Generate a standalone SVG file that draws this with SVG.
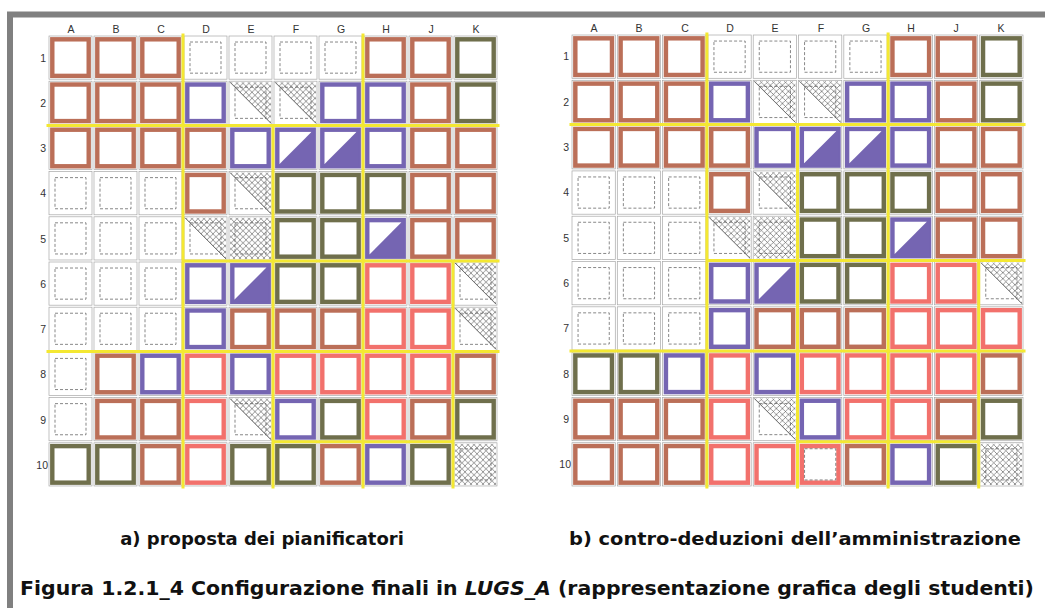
<svg xmlns="http://www.w3.org/2000/svg" xmlns:xlink="http://www.w3.org/1999/xlink" width="1045" height="608" viewBox="0 0 1045 608">
<style>
.cell{fill:none;stroke:#a8a8a8;stroke-width:0.7}
.br{fill:none;stroke:#bb6f58;stroke-width:4.4}
.ol{fill:none;stroke:#6f6f4c;stroke-width:4.4}
.pu{fill:none;stroke:#7565b2;stroke-width:4.4}
.sa{fill:none;stroke:#f2716c;stroke-width:4.4}
.dash{fill:none;stroke:#555;stroke-width:0.7;stroke-dasharray:3 2}
.yl{stroke:#f4e832;stroke-width:3;fill:none;stroke-linecap:square}
.lbl{font-family:"Liberation Sans",Arial,sans-serif;font-size:10.5px;fill:#333}
.cap{font-family:"DejaVu Sans","Liberation Sans",sans-serif;font-weight:bold;fill:#111}
</style>
<defs>
<pattern id="xh" width="6" height="6" patternUnits="userSpaceOnUse">
<path d="M0,0 L6,6 M6,0 L0,6" stroke="#555" stroke-width="0.6"/>
</pattern>
<symbol id="c" overflow="visible"><rect class="cell" x="1" y="1" width="43" height="43"/></symbol>
<symbol id="B" overflow="visible"><rect class="br" x="4.3" y="4.3" width="36.4" height="36.4"/></symbol>
<symbol id="O" overflow="visible"><rect class="ol" x="4.3" y="4.3" width="36.4" height="36.4"/></symbol>
<symbol id="P" overflow="visible"><rect class="pu" x="4.3" y="4.3" width="36.4" height="36.4"/></symbol>
<symbol id="S" overflow="visible"><rect class="sa" x="4.3" y="4.3" width="36.4" height="36.4"/></symbol>
<symbol id="H" overflow="visible"><rect class="pu" x="4.3" y="4.3" width="36.4" height="36.4"/><path d="M4.3,40.7 L40.7,4.3 L40.7,40.7 Z" fill="#7565b2"/></symbol>
<symbol id="E" overflow="visible"><rect class="dash" x="7" y="7" width="31" height="31"/></symbol>
<symbol id="T" overflow="visible"><path d="M2,2 H43 V43 Z" fill="url(#xh)"/><path d="M2,2 L43,43" stroke="#555" stroke-width="0.8"/><rect class="dash" x="7" y="7" width="31" height="31"/></symbol>
<symbol id="X" overflow="visible"><rect x="2" y="2" width="41" height="41" fill="url(#xh)"/><rect class="dash" x="7" y="7" width="31" height="31"/></symbol>
</defs>
<path d="M10,608 V14.5 H1045" fill="none" stroke="#808080" stroke-width="6"/>

<g id="grid-a" transform="translate(48,35) scale(1,1.0044)">
<g id="grid-a-cells">
<use href="#c" x="0" y="0"/><use href="#c" x="45" y="0"/><use href="#c" x="90" y="0"/><use href="#c" x="135" y="0"/><use href="#c" x="180" y="0"/><use href="#c" x="225" y="0"/><use href="#c" x="270" y="0"/><use href="#c" x="315" y="0"/><use href="#c" x="360" y="0"/><use href="#c" x="405" y="0"/>
<use href="#c" x="0" y="45"/><use href="#c" x="45" y="45"/><use href="#c" x="90" y="45"/><use href="#c" x="135" y="45"/><use href="#c" x="180" y="45"/><use href="#c" x="225" y="45"/><use href="#c" x="270" y="45"/><use href="#c" x="315" y="45"/><use href="#c" x="360" y="45"/><use href="#c" x="405" y="45"/>
<use href="#c" x="0" y="90"/><use href="#c" x="45" y="90"/><use href="#c" x="90" y="90"/><use href="#c" x="135" y="90"/><use href="#c" x="180" y="90"/><use href="#c" x="225" y="90"/><use href="#c" x="270" y="90"/><use href="#c" x="315" y="90"/><use href="#c" x="360" y="90"/><use href="#c" x="405" y="90"/>
<use href="#c" x="0" y="135"/><use href="#c" x="45" y="135"/><use href="#c" x="90" y="135"/><use href="#c" x="135" y="135"/><use href="#c" x="180" y="135"/><use href="#c" x="225" y="135"/><use href="#c" x="270" y="135"/><use href="#c" x="315" y="135"/><use href="#c" x="360" y="135"/><use href="#c" x="405" y="135"/>
<use href="#c" x="0" y="180"/><use href="#c" x="45" y="180"/><use href="#c" x="90" y="180"/><use href="#c" x="135" y="180"/><use href="#c" x="180" y="180"/><use href="#c" x="225" y="180"/><use href="#c" x="270" y="180"/><use href="#c" x="315" y="180"/><use href="#c" x="360" y="180"/><use href="#c" x="405" y="180"/>
<use href="#c" x="0" y="225"/><use href="#c" x="45" y="225"/><use href="#c" x="90" y="225"/><use href="#c" x="135" y="225"/><use href="#c" x="180" y="225"/><use href="#c" x="225" y="225"/><use href="#c" x="270" y="225"/><use href="#c" x="315" y="225"/><use href="#c" x="360" y="225"/><use href="#c" x="405" y="225"/>
<use href="#c" x="0" y="270"/><use href="#c" x="45" y="270"/><use href="#c" x="90" y="270"/><use href="#c" x="135" y="270"/><use href="#c" x="180" y="270"/><use href="#c" x="225" y="270"/><use href="#c" x="270" y="270"/><use href="#c" x="315" y="270"/><use href="#c" x="360" y="270"/><use href="#c" x="405" y="270"/>
<use href="#c" x="0" y="315"/><use href="#c" x="45" y="315"/><use href="#c" x="90" y="315"/><use href="#c" x="135" y="315"/><use href="#c" x="180" y="315"/><use href="#c" x="225" y="315"/><use href="#c" x="270" y="315"/><use href="#c" x="315" y="315"/><use href="#c" x="360" y="315"/><use href="#c" x="405" y="315"/>
<use href="#c" x="0" y="360"/><use href="#c" x="45" y="360"/><use href="#c" x="90" y="360"/><use href="#c" x="135" y="360"/><use href="#c" x="180" y="360"/><use href="#c" x="225" y="360"/><use href="#c" x="270" y="360"/><use href="#c" x="315" y="360"/><use href="#c" x="360" y="360"/><use href="#c" x="405" y="360"/>
<use href="#c" x="0" y="405"/><use href="#c" x="45" y="405"/><use href="#c" x="90" y="405"/><use href="#c" x="135" y="405"/><use href="#c" x="180" y="405"/><use href="#c" x="225" y="405"/><use href="#c" x="270" y="405"/><use href="#c" x="315" y="405"/><use href="#c" x="360" y="405"/><use href="#c" x="405" y="405"/>
</g>
<g id="grid-a-yellow">
<path class="yl" d="M135,0 V450 M0,90 H450 M315,0 V450 M225,90 V450 M135,225 H450 M0,315 H450 M405,225 V450 M225,405 H405"/>
</g>
<g id="grid-a-units">
<use href="#B" x="0" y="0"/><use href="#B" x="45" y="0"/><use href="#B" x="90" y="0"/><use href="#E" x="135" y="0"/><use href="#E" x="180" y="0"/><use href="#E" x="225" y="0"/><use href="#E" x="270" y="0"/><use href="#B" x="315" y="0"/><use href="#B" x="360" y="0"/><use href="#O" x="405" y="0"/>
<use href="#B" x="0" y="45"/><use href="#B" x="45" y="45"/><use href="#B" x="90" y="45"/><use href="#P" x="135" y="45"/><use href="#T" x="180" y="45"/><use href="#T" x="225" y="45"/><use href="#P" x="270" y="45"/><use href="#P" x="315" y="45"/><use href="#B" x="360" y="45"/><use href="#O" x="405" y="45"/>
<use href="#B" x="0" y="90"/><use href="#B" x="45" y="90"/><use href="#B" x="90" y="90"/><use href="#B" x="135" y="90"/><use href="#P" x="180" y="90"/><use href="#H" x="225" y="90"/><use href="#H" x="270" y="90"/><use href="#P" x="315" y="90"/><use href="#B" x="360" y="90"/><use href="#B" x="405" y="90"/>
<use href="#E" x="0" y="135"/><use href="#E" x="45" y="135"/><use href="#E" x="90" y="135"/><use href="#B" x="135" y="135"/><use href="#T" x="180" y="135"/><use href="#O" x="225" y="135"/><use href="#O" x="270" y="135"/><use href="#O" x="315" y="135"/><use href="#B" x="360" y="135"/><use href="#B" x="405" y="135"/>
<use href="#E" x="0" y="180"/><use href="#E" x="45" y="180"/><use href="#E" x="90" y="180"/><use href="#T" x="135" y="180"/><use href="#X" x="180" y="180"/><use href="#O" x="225" y="180"/><use href="#O" x="270" y="180"/><use href="#H" x="315" y="180"/><use href="#B" x="360" y="180"/><use href="#B" x="405" y="180"/>
<use href="#E" x="0" y="225"/><use href="#E" x="45" y="225"/><use href="#E" x="90" y="225"/><use href="#P" x="135" y="225"/><use href="#H" x="180" y="225"/><use href="#O" x="225" y="225"/><use href="#O" x="270" y="225"/><use href="#S" x="315" y="225"/><use href="#S" x="360" y="225"/><use href="#T" x="405" y="225"/>
<use href="#E" x="0" y="270"/><use href="#E" x="45" y="270"/><use href="#E" x="90" y="270"/><use href="#P" x="135" y="270"/><use href="#B" x="180" y="270"/><use href="#B" x="225" y="270"/><use href="#B" x="270" y="270"/><use href="#S" x="315" y="270"/><use href="#S" x="360" y="270"/><use href="#T" x="405" y="270"/>
<use href="#E" x="0" y="315"/><use href="#B" x="45" y="315"/><use href="#P" x="90" y="315"/><use href="#S" x="135" y="315"/><use href="#P" x="180" y="315"/><use href="#S" x="225" y="315"/><use href="#S" x="270" y="315"/><use href="#S" x="315" y="315"/><use href="#S" x="360" y="315"/><use href="#B" x="405" y="315"/>
<use href="#E" x="0" y="360"/><use href="#B" x="45" y="360"/><use href="#B" x="90" y="360"/><use href="#S" x="135" y="360"/><use href="#T" x="180" y="360"/><use href="#P" x="225" y="360"/><use href="#O" x="270" y="360"/><use href="#S" x="315" y="360"/><use href="#B" x="360" y="360"/><use href="#O" x="405" y="360"/>
<use href="#O" x="0" y="405"/><use href="#O" x="45" y="405"/><use href="#B" x="90" y="405"/><use href="#S" x="135" y="405"/><use href="#O" x="180" y="405"/><use href="#O" x="225" y="405"/><use href="#B" x="270" y="405"/><use href="#P" x="315" y="405"/><use href="#O" x="360" y="405"/><use href="#X" x="405" y="405"/>
</g>
</g>
<g id="grid-a-labels" class="lbl">
<g text-anchor="middle"><text x="71" y="33">A</text><text x="116" y="33">B</text><text x="161" y="33">C</text><text x="206" y="33">D</text><text x="251" y="33">E</text><text x="296" y="33">F</text><text x="341" y="33">G</text><text x="386" y="33">H</text><text x="431" y="33">J</text><text x="476" y="33">K</text></g>
<g text-anchor="end"><text x="46" y="62">1</text><text x="46" y="107">2</text><text x="46" y="152">3</text><text x="46" y="197">4</text><text x="46" y="243">5</text><text x="46" y="288">6</text><text x="46" y="333">7</text><text x="46" y="378">8</text><text x="46" y="424">9</text><text x="48" y="469">10</text></g>
</g>

<g id="grid-b" transform="translate(571,34) scale(1.0067,1.0067)">
<g id="grid-b-cells">
<use href="#c" x="0" y="0"/><use href="#c" x="45" y="0"/><use href="#c" x="90" y="0"/><use href="#c" x="135" y="0"/><use href="#c" x="180" y="0"/><use href="#c" x="225" y="0"/><use href="#c" x="270" y="0"/><use href="#c" x="315" y="0"/><use href="#c" x="360" y="0"/><use href="#c" x="405" y="0"/>
<use href="#c" x="0" y="45"/><use href="#c" x="45" y="45"/><use href="#c" x="90" y="45"/><use href="#c" x="135" y="45"/><use href="#c" x="180" y="45"/><use href="#c" x="225" y="45"/><use href="#c" x="270" y="45"/><use href="#c" x="315" y="45"/><use href="#c" x="360" y="45"/><use href="#c" x="405" y="45"/>
<use href="#c" x="0" y="90"/><use href="#c" x="45" y="90"/><use href="#c" x="90" y="90"/><use href="#c" x="135" y="90"/><use href="#c" x="180" y="90"/><use href="#c" x="225" y="90"/><use href="#c" x="270" y="90"/><use href="#c" x="315" y="90"/><use href="#c" x="360" y="90"/><use href="#c" x="405" y="90"/>
<use href="#c" x="0" y="135"/><use href="#c" x="45" y="135"/><use href="#c" x="90" y="135"/><use href="#c" x="135" y="135"/><use href="#c" x="180" y="135"/><use href="#c" x="225" y="135"/><use href="#c" x="270" y="135"/><use href="#c" x="315" y="135"/><use href="#c" x="360" y="135"/><use href="#c" x="405" y="135"/>
<use href="#c" x="0" y="180"/><use href="#c" x="45" y="180"/><use href="#c" x="90" y="180"/><use href="#c" x="135" y="180"/><use href="#c" x="180" y="180"/><use href="#c" x="225" y="180"/><use href="#c" x="270" y="180"/><use href="#c" x="315" y="180"/><use href="#c" x="360" y="180"/><use href="#c" x="405" y="180"/>
<use href="#c" x="0" y="225"/><use href="#c" x="45" y="225"/><use href="#c" x="90" y="225"/><use href="#c" x="135" y="225"/><use href="#c" x="180" y="225"/><use href="#c" x="225" y="225"/><use href="#c" x="270" y="225"/><use href="#c" x="315" y="225"/><use href="#c" x="360" y="225"/><use href="#c" x="405" y="225"/>
<use href="#c" x="0" y="270"/><use href="#c" x="45" y="270"/><use href="#c" x="90" y="270"/><use href="#c" x="135" y="270"/><use href="#c" x="180" y="270"/><use href="#c" x="225" y="270"/><use href="#c" x="270" y="270"/><use href="#c" x="315" y="270"/><use href="#c" x="360" y="270"/><use href="#c" x="405" y="270"/>
<use href="#c" x="0" y="315"/><use href="#c" x="45" y="315"/><use href="#c" x="90" y="315"/><use href="#c" x="135" y="315"/><use href="#c" x="180" y="315"/><use href="#c" x="225" y="315"/><use href="#c" x="270" y="315"/><use href="#c" x="315" y="315"/><use href="#c" x="360" y="315"/><use href="#c" x="405" y="315"/>
<use href="#c" x="0" y="360"/><use href="#c" x="45" y="360"/><use href="#c" x="90" y="360"/><use href="#c" x="135" y="360"/><use href="#c" x="180" y="360"/><use href="#c" x="225" y="360"/><use href="#c" x="270" y="360"/><use href="#c" x="315" y="360"/><use href="#c" x="360" y="360"/><use href="#c" x="405" y="360"/>
<use href="#c" x="0" y="405"/><use href="#c" x="45" y="405"/><use href="#c" x="90" y="405"/><use href="#c" x="135" y="405"/><use href="#c" x="180" y="405"/><use href="#c" x="225" y="405"/><use href="#c" x="270" y="405"/><use href="#c" x="315" y="405"/><use href="#c" x="360" y="405"/><use href="#c" x="405" y="405"/>
</g>
<g id="grid-b-yellow">
<path class="yl" d="M135,0 V450 M0,90 H450 M315,0 V450 M225,90 V450 M135,225 H450 M0,315 H450 M405,225 V450 M225,405 H405"/>
</g>
<g id="grid-b-units">
<use href="#B" x="0" y="0"/><use href="#B" x="45" y="0"/><use href="#B" x="90" y="0"/><use href="#E" x="135" y="0"/><use href="#E" x="180" y="0"/><use href="#E" x="225" y="0"/><use href="#E" x="270" y="0"/><use href="#B" x="315" y="0"/><use href="#B" x="360" y="0"/><use href="#O" x="405" y="0"/>
<use href="#B" x="0" y="45"/><use href="#B" x="45" y="45"/><use href="#B" x="90" y="45"/><use href="#P" x="135" y="45"/><use href="#T" x="180" y="45"/><use href="#T" x="225" y="45"/><use href="#P" x="270" y="45"/><use href="#P" x="315" y="45"/><use href="#B" x="360" y="45"/><use href="#O" x="405" y="45"/>
<use href="#B" x="0" y="90"/><use href="#B" x="45" y="90"/><use href="#B" x="90" y="90"/><use href="#B" x="135" y="90"/><use href="#P" x="180" y="90"/><use href="#H" x="225" y="90"/><use href="#H" x="270" y="90"/><use href="#P" x="315" y="90"/><use href="#B" x="360" y="90"/><use href="#B" x="405" y="90"/>
<use href="#E" x="0" y="135"/><use href="#E" x="45" y="135"/><use href="#E" x="90" y="135"/><use href="#B" x="135" y="135"/><use href="#T" x="180" y="135"/><use href="#O" x="225" y="135"/><use href="#O" x="270" y="135"/><use href="#O" x="315" y="135"/><use href="#B" x="360" y="135"/><use href="#B" x="405" y="135"/>
<use href="#E" x="0" y="180"/><use href="#E" x="45" y="180"/><use href="#E" x="90" y="180"/><use href="#T" x="135" y="180"/><use href="#X" x="180" y="180"/><use href="#O" x="225" y="180"/><use href="#O" x="270" y="180"/><use href="#H" x="315" y="180"/><use href="#B" x="360" y="180"/><use href="#B" x="405" y="180"/>
<use href="#E" x="0" y="225"/><use href="#E" x="45" y="225"/><use href="#E" x="90" y="225"/><use href="#P" x="135" y="225"/><use href="#H" x="180" y="225"/><use href="#O" x="225" y="225"/><use href="#O" x="270" y="225"/><use href="#S" x="315" y="225"/><use href="#S" x="360" y="225"/><use href="#T" x="405" y="225"/>
<use href="#E" x="0" y="270"/><use href="#E" x="45" y="270"/><use href="#E" x="90" y="270"/><use href="#P" x="135" y="270"/><use href="#B" x="180" y="270"/><use href="#B" x="225" y="270"/><use href="#B" x="270" y="270"/><use href="#S" x="315" y="270"/><use href="#S" x="360" y="270"/><use href="#S" x="405" y="270"/>
<use href="#O" x="0" y="315"/><use href="#O" x="45" y="315"/><use href="#P" x="90" y="315"/><use href="#S" x="135" y="315"/><use href="#P" x="180" y="315"/><use href="#S" x="225" y="315"/><use href="#S" x="270" y="315"/><use href="#S" x="315" y="315"/><use href="#S" x="360" y="315"/><use href="#B" x="405" y="315"/>
<use href="#B" x="0" y="360"/><use href="#B" x="45" y="360"/><use href="#B" x="90" y="360"/><use href="#S" x="135" y="360"/><use href="#T" x="180" y="360"/><use href="#P" x="225" y="360"/><use href="#S" x="270" y="360"/><use href="#S" x="315" y="360"/><use href="#B" x="360" y="360"/><use href="#O" x="405" y="360"/>
<use href="#B" x="0" y="405"/><use href="#B" x="45" y="405"/><use href="#B" x="90" y="405"/><use href="#S" x="135" y="405"/><use href="#S" x="180" y="405"/><use href="#S" x="225" y="405"/><use href="#E" x="225" y="405"/><use href="#B" x="270" y="405"/><use href="#P" x="315" y="405"/><use href="#O" x="360" y="405"/><use href="#X" x="405" y="405"/>
</g>
</g>
<g id="grid-b-labels" class="lbl">
<g text-anchor="middle"><text x="594" y="32">A</text><text x="639" y="32">B</text><text x="685" y="32">C</text><text x="730" y="32">D</text><text x="775" y="32">E</text><text x="821" y="32">F</text><text x="866" y="32">G</text><text x="911" y="32">H</text><text x="956" y="32">J</text><text x="1001" y="32">K</text></g>
<g text-anchor="end"><text x="569" y="60">1</text><text x="569" y="106">2</text><text x="569" y="151">3</text><text x="569" y="196">4</text><text x="569" y="242">5</text><text x="569" y="287">6</text><text x="569" y="332">7</text><text x="569" y="378">8</text><text x="569" y="423">9</text><text x="571" y="468">10</text></g>
</g>

<g id="captions">
<text class="cap" x="262" y="545" font-size="18" text-anchor="middle">a) proposta dei pianificatori</text>
<text class="cap" x="569" y="545" font-size="18" textLength="452" lengthAdjust="spacingAndGlyphs">b) contro-deduzioni dell’amministrazione</text>
<text class="cap" x="20" y="595" font-size="19" textLength="1014" lengthAdjust="spacingAndGlyphs">Figura 1.2.1_4 Configurazione finali in <tspan font-style="italic">LUGS_A</tspan> (rappresentazione grafica degli studenti)</text>
</g>
</svg>
